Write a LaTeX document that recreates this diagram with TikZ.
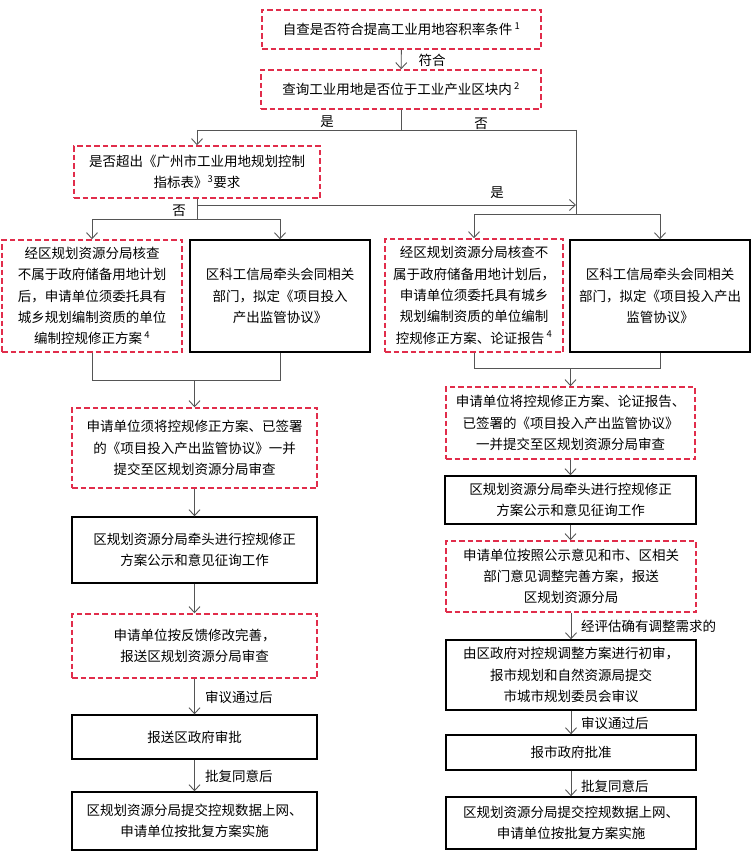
\documentclass[tikz,border=0pt]{standalone}
\usepackage{fontspec}
\setmainfont{Noto Sans CJK SC}
\usetikzlibrary{arrows.meta}
\definecolor{dashred}{RGB}{225,45,75}
\definecolor{conngray}{RGB}{85,85,85}
\tikzset{
  boxbase/.style={align=center, inner sep=0pt, font=\fontsize{13.5}{21.3}\selectfont},
  redbox/.style={boxbase, draw=dashred, line width=1.5pt, dash pattern=on 5.5pt off 3pt},
  blackbox/.style={boxbase, draw=black, line width=1.4pt},
  conn/.style={draw=conngray, line width=0.9pt},
  arr/.style={conn, -{Straight Barb[length=6pt,width=11pt]}},
  lbl/.style={font=\fontsize{13.5}{16}\selectfont, inner sep=0pt},
}
\begin{document}
\begin{tikzpicture}[x=1pt,y=-1pt]
\useasboundingbox[fill=white] (0,0) rectangle (752,856);

% top
\node[redbox, minimum width=279pt, minimum height=39pt] (b1) at (401.5,29.5) {自查是否符合提高工业用地容积率条件\,\textsuperscript{1}};
\node[redbox, minimum width=280pt, minimum height=39pt] (b2) at (401,89.5) {查询工业用地是否位于工业产业区块内\,\textsuperscript{2}};
\node[redbox, minimum width=246pt, minimum height=52pt] (b3) at (197,172) {是否超出《广州市工业用地规划控制\\指标表》\textsuperscript{3}要求};

% left row
\node[redbox, minimum width=180pt, minimum height=112pt] (la) at (92,296) {经区规划资源分局核查\\不属于政府储备用地计划\\后，申请单位须委托具有\\城乡规划编制资质的单位\\编制控规修正方案\,\textsuperscript{4}};
\node[blackbox, minimum width=180pt, minimum height=112pt] (lb) at (280,296) {区科工信局牵头会同相关\\部门，拟定《项目投入\\产出监管协议》};

% right row
\node[redbox, minimum width=178pt, minimum height=113pt] (rc) at (474,295.5) {经区规划资源分局核查不\\属于政府储备用地计划后，\\申请单位须委托具有城乡\\规划编制资质的单位编制\\控规修正方案、论证报告\,\textsuperscript{4}};
\node[blackbox, minimum width=180pt, minimum height=112pt] (rd) at (660,296) {区科工信局牵头会同相关\\部门，拟定《项目投入产出\\监管协议》};

% left column
\node[redbox, minimum width=245pt, minimum height=80pt] (lk) at (194.5,448) {申请单位须将控规修正方案、已签署\\的《项目投入产出监管协议》一并\\提交至区规划资源分局审查};
\node[blackbox, minimum width=245pt, minimum height=66pt] (ll) at (194.5,550) {区规划资源分局牵头进行控规修正\\方案公示和意见征询工作};
\node[redbox, minimum width=245pt, minimum height=64pt] (lm) at (194.5,646) {申请单位按反馈修改完善，\\报送区规划资源分局审查};
\node[blackbox, minimum width=245pt, minimum height=44pt] (ln) at (194.5,737) {报送区政府审批};
\node[blackbox, minimum width=245pt, minimum height=58pt] (lo) at (194.5,821) {区规划资源分局提交控规数据上网、\\申请单位按批复方案实施};

% right column
\node[redbox, minimum width=249pt, minimum height=72pt] (re) at (570.5,423) {申请单位将控规修正方案、论证报告、\\已签署的《项目投入产出监管协议》\\一并提交至区规划资源分局审查};
\node[blackbox, minimum width=251pt, minimum height=48pt] (rf) at (570.5,500) {区规划资源分局牵头进行控规修正\\方案公示和意见征询工作};
\node[redbox, minimum width=250pt, minimum height=71pt] (rg) at (571,576.5) {申请单位按照公示意见和市、区相关\\部门意见调整完善方案，报送\\区规划资源分局};
\node[blackbox, minimum width=250pt, minimum height=70pt] (rh) at (571,675) {由区政府对控规调整方案进行初审，\\报市规划和自然资源局提交\\市城市规划委员会审议};
\node[blackbox, minimum width=250pt, minimum height=35pt] (ri) at (571,752.5) {报市政府批准};
\node[blackbox, minimum width=250pt, minimum height=52pt] (rj) at (571,823) {区规划资源分局提交控规数据上网、\\申请单位按批复方案实施};

% junction coordinates
\coordinate (j2) at (401,130);
\coordinate (jl) at (197,130);
\coordinate (jr) at (576,130);
\coordinate (jyes) at (576,205);
\coordinate (jrb) at (576,214);
\coordinate (jrl) at (474,214);
\coordinate (jrr) at (660,214);
\coordinate (j3) at (197,205);
\coordinate (j3b) at (197,219);
\coordinate (jll) at (92,219);
\coordinate (jlr) at (280,219);
\coordinate (jla) at (92,380);
\coordinate (jlb) at (280,380);
\coordinate (jlm) at (194.5,380);
\coordinate (jrc) at (474,368);
\coordinate (jrd) at (660,368);
\coordinate (jrm) at (570.5,368);

% connectors
\draw[arr] (b1) -- (b2);
\draw[conn] (b2.south) -- (j2);
\draw[conn] (jl) -- (jr);
\draw[arr] (jl) -- (b3.north);
\draw[conn] (jr) -- (jrb);
\draw[conn] (jrl) -- (jrr);
\draw[arr] (jrl) -- (rc.north);
\draw[arr] (jrr) -- (rd.north);
\draw[conn] (b3.south) -- (j3b);
\draw[arr] (j3) -- (jyes);
\draw[conn] (jll) -- (jlr);
\draw[arr] (jll) -- (la.north);
\draw[arr] (jlr) -- (lb.north);

\draw[conn] (la.south) -- (jla) -- (jlb) -- (lb.south);
\draw[arr] (jlm) -- (lk.north);
\draw[conn] (rc.south) -- (jrc) -- (jrd) -- (rd.south);
\draw[arr] (jrm) -- (re.north);

\draw[arr] (lk) -- (ll);
\draw[arr] (ll) -- (lm);
\draw[arr] (lm) -- (ln);
\draw[arr] (ln) -- (lo);

\draw[arr] (re.south) -- (re.south |- rf.north);
\draw[arr] (rf.south) -- (rf.south |- rg.north);
\draw[arr] (rg) -- (rh);
\draw[arr] (rh) -- (ri);
\draw[arr] (ri) -- (rj);

% labels
\node[lbl] (t1) at (432,60) {符合};
\node[lbl] (t2) at (327,122) {是};
\node[lbl] (t3) at (481,124) {否};
\node[lbl] (t4) at (497,193) {是};
\node[lbl] (t5) at (179,211) {否};
\node[lbl, anchor=west] (t6) at (205,697) {审议通过后};
\node[lbl, anchor=west] (t7) at (205,776) {批复同意后};
\node[lbl, anchor=west] (t8) at (581,626) {经评估确有调整需求的};
\node[lbl, anchor=west] (t9) at (581,723) {审议通过后};
\node[lbl, anchor=west] (t10) at (581,786) {批复同意后};
\end{tikzpicture}
\end{document}
